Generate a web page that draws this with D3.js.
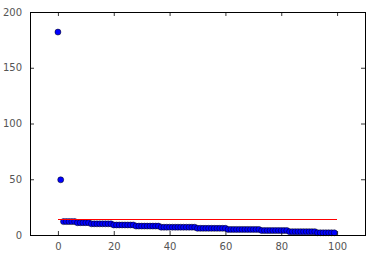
<!DOCTYPE html>
<html>
<head>
<meta charset="utf-8">
<script src="https://cdn.jsdelivr.net/npm/d3@7"></script>
<style>
  body { margin: 0; background: #fff; }
  svg { display: block; }
  .tick text { font-family: "DejaVu Sans", sans-serif; font-size: 10px; fill: #555; }
</style>
</head>
<body>
<svg id="chart"></svg>
<script>
// values (index -> value, sorted descending)
const values = [
  182, 49.5,
  12, 12, 12, 12, 12,
  11, 11, 11, 11, 11,
  10, 10, 10, 10, 10, 10, 10, 10,
  9, 9, 9, 9, 9, 9, 9, 9,
  8, 8, 8, 8, 8, 8, 8, 8, 8,
  7, 7, 7, 7, 7, 7, 7, 7, 7, 7, 7, 7, 7,
  6, 6, 6, 6, 6, 6, 6, 6, 6, 6, 6,
  5, 5, 5, 5, 5, 5, 5, 5, 5, 5, 5, 5,
  4, 4, 4, 4, 4, 4, 4, 4, 4, 4,
  3, 3, 3, 3, 3, 3, 3, 3, 3, 3,
  2, 2, 2, 2, 2, 2, 2
];
const hline = { y: 14, xmin: 0, xmax: 100 };
const xTicks = [0, 20, 40, 60, 80, 100];
const yTicks = [0, 50, 100, 150, 200];

const width = 372, height = 256;
const margin = { top: 12, right: 7, bottom: 21, left: 30 };

const svg = d3.select('#chart')
  .attr('width', width)
  .attr('height', height);

const x = d3.scaleLinear().domain([-10, 110]).range([margin.left, width - margin.right]);
const y = d3.scaleLinear().domain([0, 200]).range([height - margin.bottom, margin.top]);

// axes, classic style: inward ticks on all sides
const styleAxis = g => {
  g.select('.domain').remove();
  g.selectAll('.tick line').attr('stroke', '#000').attr('stroke-width', 0.8);
};

svg.append('g')
  .attr('transform', `translate(0,${height - margin.bottom})`)
  .call(d3.axisBottom(x).tickValues(xTicks).tickSizeInner(-4).tickPadding(8))
  .call(styleAxis);

svg.append('g')
  .attr('transform', `translate(0,${margin.top})`)
  .call(d3.axisTop(x).tickValues(xTicks).tickSizeInner(-4).tickFormat(''))
  .call(styleAxis);

svg.append('g')
  .attr('transform', `translate(${margin.left},0)`)
  .call(d3.axisLeft(y).tickValues(yTicks).tickSizeInner(-4).tickPadding(8))
  .call(styleAxis);

svg.append('g')
  .attr('transform', `translate(${width - margin.right},0)`)
  .call(d3.axisRight(y).tickValues(yTicks).tickSizeInner(-4).tickFormat(''))
  .call(styleAxis);

// points
svg.append('g')
  .selectAll('circle')
  .data(values)
  .join('circle')
  .attr('cx', (d, i) => x(i))
  .attr('cy', d => y(d))
  .attr('r', 3)
  .attr('fill', '#0000ff')
  .attr('stroke', '#000')
  .attr('stroke-width', 0.5);

// horizontal red line
svg.append('line')
  .attr('x1', x(hline.xmin))
  .attr('x2', x(hline.xmax))
  .attr('y1', y(hline.y))
  .attr('y2', y(hline.y))
  .attr('stroke', '#ff0000')
  .attr('stroke-width', 1)
  .attr('shape-rendering', 'crispEdges');

// frame
svg.append('rect')
  .attr('x', margin.left)
  .attr('y', margin.top)
  .attr('width', width - margin.left - margin.right)
  .attr('height', height - margin.top - margin.bottom)
  .attr('fill', 'none')
  .attr('stroke', '#000')
  .attr('stroke-width', 1)
  .attr('shape-rendering', 'crispEdges');
</script>
</body>
</html>
